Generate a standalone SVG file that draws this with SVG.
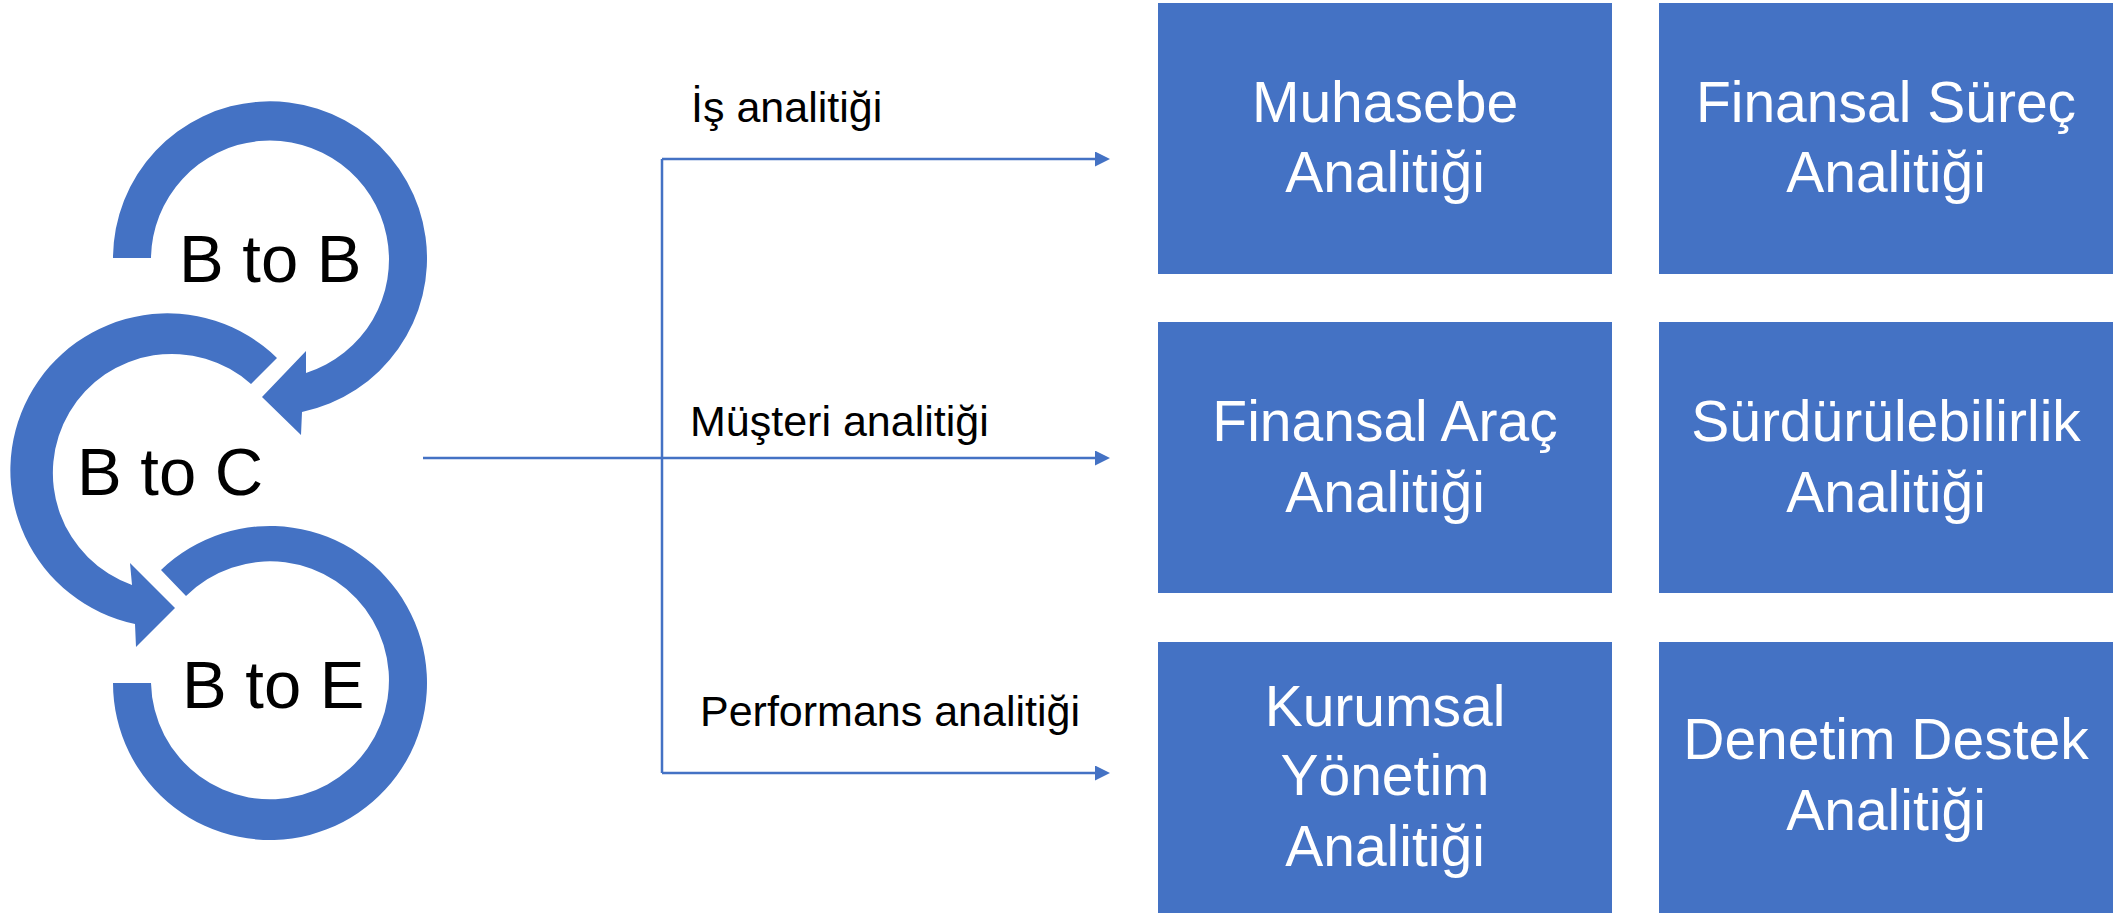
<svg xmlns="http://www.w3.org/2000/svg" width="2123" height="913" viewBox="0 0 2123 913">
<style>
.ring{fill:#4472C4}
.ringtxt{font-family:"Liberation Sans",Arial,sans-serif;font-size:67px;fill:#000}
.lbl{font-family:"Liberation Sans",Arial,sans-serif;font-size:43px;fill:#000}
.box{fill:#4472C4}
.boxtxt{font-family:"Liberation Sans",Arial,sans-serif;font-size:57px;fill:#fff;text-anchor:middle}
.conn{stroke:#4472C4;stroke-width:2.5;fill:none}
</style>
<defs>
<marker id="arr" viewBox="0 0 15 15" refX="0" refY="7.5" markerWidth="15" markerHeight="15" markerUnits="userSpaceOnUse" orient="auto">
<path d="M0,0 L15,7.5 L0,15 Z" fill="#4472C4"/>
</marker>
</defs>
<rect width="2123" height="913" fill="#fff"/>
<g id="btob">
<path class="ring" d="M113,258 A157,157 0 1 1 302,412 L301,435 L262,397 L306,351 L306,373 A119,119 0 1 0 151,258 Z"/>
<text class="ringtxt" x="179" y="282">B to B</text>
</g>
<g id="btoc">
<path class="ring" d="M277,358 A157,157 0 1 0 135,624 L136,647 L175,608 L130,563 L132,585 A119,119 0 1 1 251,384 Z"/>
<text class="ringtxt" x="77" y="495">B to C</text>
</g>
<g id="btoe">
<path class="ring" d="M113,683 A157,157 0 1 0 161,570 L186,596 A119,119 0 1 1 151,683 Z"/>
<text class="ringtxt" x="182" y="708">B to E</text>
</g>
<g id="connectors">
<path class="conn" d="M662,159 V773"/>
<path class="conn" d="M662,159 H1095" marker-end="url(#arr)"/>
<path class="conn" d="M423,458 H1095" marker-end="url(#arr)"/>
<path class="conn" d="M662,773 H1095" marker-end="url(#arr)"/>
<text class="lbl" x="691" y="122">İş analitiği</text>
<text class="lbl" x="690" y="436">Müşteri analitiği</text>
<text class="lbl" x="700" y="726">Performans analitiği</text>
</g>
<g id="muhasebe">
<rect class="box" x="1158" y="3" width="454" height="271"/>
<text class="boxtxt" x="1385" y="122">Muhasebe</text>
<text class="boxtxt" x="1385" y="192">Analitiği</text>
</g>
<g id="finansal-surec">
<rect class="box" x="1659" y="3" width="454" height="271"/>
<text class="boxtxt" x="1886" y="122">Finansal Süreç</text>
<text class="boxtxt" x="1886" y="192">Analitiği</text>
</g>
<g id="finansal-arac">
<rect class="box" x="1158" y="322" width="454" height="271"/>
<text class="boxtxt" x="1385" y="441">Finansal Araç</text>
<text class="boxtxt" x="1385" y="512">Analitiği</text>
</g>
<g id="surdurulebilirlik">
<rect class="box" x="1659" y="322" width="454" height="271"/>
<text class="boxtxt" x="1886" y="441">Sürdürülebilirlik</text>
<text class="boxtxt" x="1886" y="512">Analitiği</text>
</g>
<g id="kurumsal">
<rect class="box" x="1158" y="642" width="454" height="271"/>
<text class="boxtxt" x="1385" y="726">Kurumsal</text>
<text class="boxtxt" x="1385" y="795">Yönetim</text>
<text class="boxtxt" x="1385" y="866">Analitiği</text>
</g>
<g id="denetim">
<rect class="box" x="1659" y="642" width="454" height="271"/>
<text class="boxtxt" x="1886" y="759">Denetim Destek</text>
<text class="boxtxt" x="1886" y="830">Analitiği</text>
</g>
</svg>
